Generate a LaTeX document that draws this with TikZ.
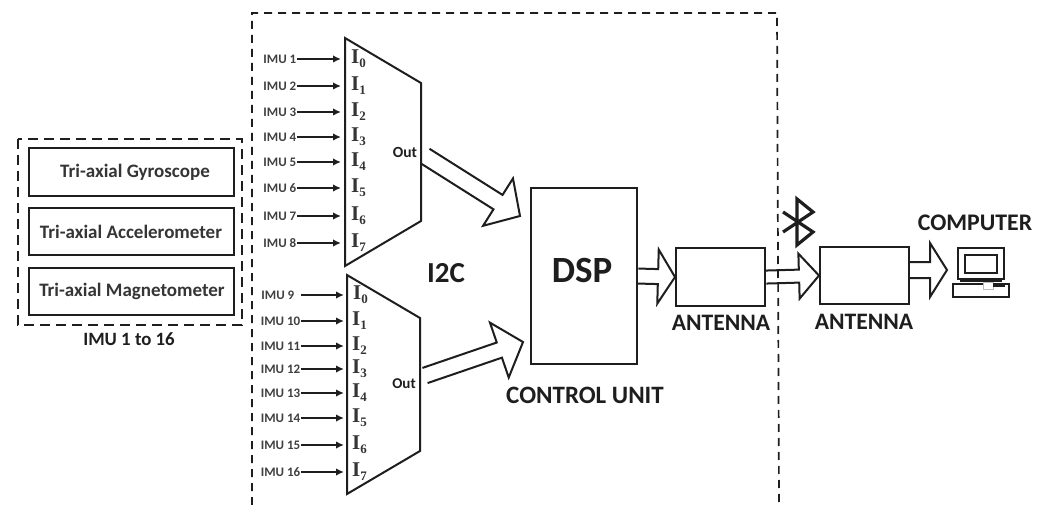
\documentclass[tikz,border=0pt]{standalone}
\usepackage{fontspec}
\setmainfont{Carlito}
\newfontfamily\inpfont{Liberation Serif}
\usetikzlibrary{arrows.meta,calc}
\definecolor{ink}{HTML}{1E1E1E}
\newcommand{\fsz}[1]{\fontsize{#1}{#1}\selectfont\bfseries}
% open-tailed block arrow: tail, tip, half shaft, half head, head length
\newcommand{\fatarrow}[5]{%
  \draw[fat] ($#1!#3pt!90:#2$) -- ($($#2!#5pt!#1$)!#3pt!90:#2$) -- ($($#2!#5pt!#1$)!#4pt!90:#2$) -- #2
    -- ($($#2!#5pt!#1$)!#4pt!-90:#2$) -- ($($#2!#5pt!#1$)!#3pt!-90:#2$) -- ($#1!#3pt!-90:#2$);}
\tikzset{
  x=1pt,y=-1pt,
  every node/.style={text=ink},
  box/.style={draw=ink,line width=2.1pt,inner sep=0pt,fill=white,anchor=north west},
  dashbox/.style={draw=ink,line width=1.7pt,dash pattern=on 8pt off 6pt},
  imubox/.style={draw=ink,line width=2.5pt,dash pattern=on 10pt off 6pt},
  fat/.style={draw=ink,line width=2pt,miter limit=6},
  mux/.style={draw=ink,line width=2pt,line join=miter},
  inarrow/.style={draw=ink,line width=1.7pt,-{Latex[length=8pt,width=7.5pt]}},
  imulab/.style={font=\fsz{13},anchor=east,inner sep=0.5pt,text=ink!85},
  inlab/.style={font=\inpfont\bfseries\fontsize{21}{21}\selectfont,anchor=west,inner sep=0pt,text=ink!90},
  caption/.style={font=\fsz{19},inner sep=0pt},
  sensor/.style={font=\fsz{19},inner sep=0pt,text=ink!90},
}
\newcommand{\insub}[1]{\raisebox{-4pt}{\fontsize{13}{13}\selectfont #1}}
\begin{document}
\begin{tikzpicture}
\useasboundingbox[fill=white] (0,0) rectangle (1046,505);
% dashed frames
\draw[dashbox] (252,505) -- (252,13) -- (777,13) -- (779,505);
\draw[imubox] (18,139) rectangle (242,325);
% sensor boxes
\node[box,minimum width=205pt,minimum height=48pt] (gyro) at (28,147) {};
\node[box,minimum width=205pt,minimum height=47pt] (acc) at (28,207) {};
\node[box,minimum width=205pt,minimum height=47pt] (mag) at (28,267) {};
\node[sensor] (gyrot) at (135,172) {Tri-axial Gyroscope};
\node[sensor] (acct) at (131,232) {Tri-axial Accelerometer};
\node[sensor] (magt) at (132,291) {Tri-axial Magnetometer};
\node[font=\fsz{18.8},inner sep=0pt] (imucap) at (129,339) {IMU 1 to 16};
% multiplexers
\draw[mux] (345,38) -- (421,83) -- (421,221) -- (345,266) -- cycle;
\draw[mux] (347,275) -- (420,318) -- (420,451) -- (347,494) -- cycle;
\foreach \y/\n/\k in {59/1/0,86/2/1,112/3/2,137/4/3,162/5/4,188/6/5,216/7/6,243/8/7}{
  \node[imulab] (imu\n) at (297,\y) {IMU \n};
  \coordinate (ain\n) at (341,\y);
  \draw[inarrow] (imu\n.east) -- (ain\n);
  \node[inlab] (ilab\n) at (351,\y) {I\insub{\k}};
}
\node[imulab] (imu9) at (295,295) {IMU 9};
\coordinate (ain9) at (344,295);
\coordinate (ast9) at (301,295);
\draw[inarrow] (ast9) -- (ain9);
\node[inlab] (ilab9) at (353,295) {I\insub{0}};
\foreach \y/\n/\k in {321/10/1,346/11/2,369/12/3,393/13/4,418/14/5,445/15/6,472/16/7}{
  \node[imulab] (imu\n) at (301,\y) {IMU \n};
  \coordinate (ain\n) at (344,\y);
  \draw[inarrow] (imu\n.east) -- (ain\n);
  \node[inlab] (ilab\n) at (352,\y) {I\insub{\k}};
}
\node[font=\fsz{15.5},inner sep=0pt] (out1) at (405,152) {Out};
\node[font=\fsz{15},inner sep=0pt] (out2) at (404,384) {Out};
% main blocks
\node[box,minimum width=106pt,minimum height=176pt] (dsp) at (530,187) {};
\node[font=\fsz{37},inner sep=0pt] (dspt) at (582,270) {DSP};
\node[box,minimum width=89pt,minimum height=58pt] (ant1) at (675,247) {};
\node[box,minimum width=89pt,minimum height=57pt] (ant2) at (819,246) {};
\node[font=\fsz{29},inner sep=0pt] (i2c) at (446,273) {I2C};
\node[caption,font=\fsz{25}] (cu) at (585,395) {CONTROL UNIT};
\node[caption,font=\fsz{23.6}] (ant1t) at (721,323) {ANTENNA};
\node[caption,font=\fsz{23.6}] (ant2t) at (864,322) {ANTENNA};
\node[caption,font=\fsz{23.8}] (comp) at (975,223) {COMPUTER};
% block arrows
\coordinate (t1) at (425,156);
\coordinate (h1) at (520,216);
\coordinate (t2) at (425,375.5);
\coordinate (h2) at (523,342);
\coordinate (pcin) at (947,270);
\coordinate (t3) at (908,270);
\fatarrow{(t1)}{(h1)}{8.5}{28}{26}
\fatarrow{(t2)}{(h2)}{8}{29}{25}
\fatarrow{(dsp.east)}{(ant1.west)}{7.5}{27}{17}
\fatarrow{(ant1.east)}{(ant2.west)}{6.5}{22.5}{20}
\fatarrow{(t3)}{(pcin)}{8}{27}{17}
% bluetooth
\draw[ink,line width=3.2pt,line join=miter] (783,212) -- (813,232) -- (797,245) -- (797,199) -- (813,212) -- (783,232);
% computer
\draw[ink,line width=1.7pt] (958,248) rectangle (1004,279);
\draw[ink,line width=1.5pt] (965,255) rectangle (997,273);
\draw[ink,line width=1.4pt] (960,281) -- (1002,281);
\draw[ink,line width=1.7pt] (953,284) rectangle (1009,297);
\fill[white,draw=ink!30,line width=.5pt] (983,282) rectangle (993,289);
\fill[ink] (993,283) rectangle (1005,287);
\end{tikzpicture}
\end{document}
